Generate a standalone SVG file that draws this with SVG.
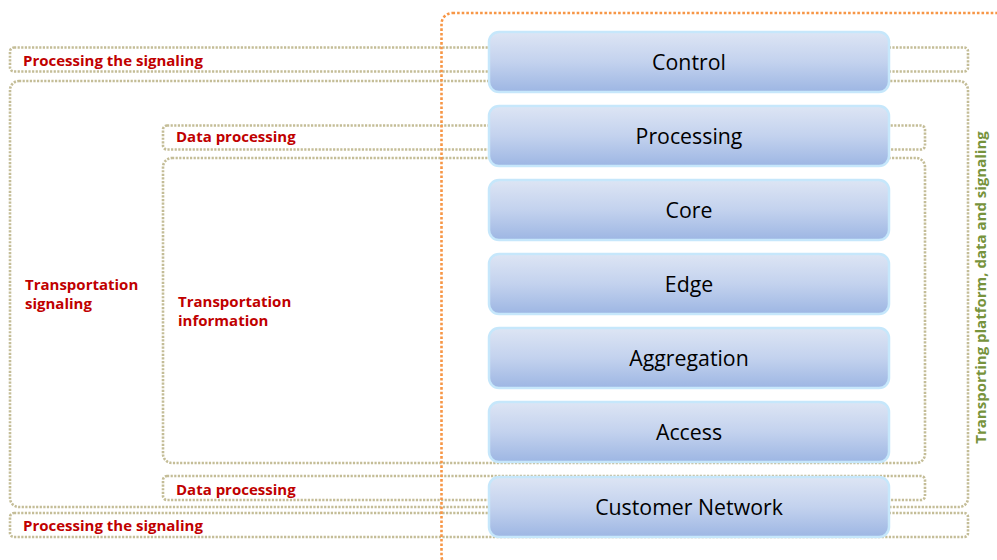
<svg xmlns="http://www.w3.org/2000/svg" width="997" height="560" viewBox="0 0 997 560">
<defs>
<linearGradient id="nodeGrad" x1="0" y1="0" x2="0" y2="1">
<stop offset="0" stop-color="#dde5f4"/>
<stop offset="0.5" stop-color="#c3d2ee"/>
<stop offset="1" stop-color="#9db6e3"/>
</linearGradient>
</defs>
<style>
.zone{fill:none;stroke:#c4bd97;stroke-width:2.6;stroke-dasharray:2.2 1.4}
.frame{fill:none;stroke:#f79646;stroke-width:2.6;stroke-dasharray:2.6 2}
.node rect{fill:url(#nodeGrad);stroke:#c6e7fb;stroke-width:2.5}
.node text{font-family:"Open Sans","Liberation Sans",sans-serif;font-size:21.3px;fill:#000;text-anchor:middle}
.lbl{font-family:"Open Sans","Liberation Sans",sans-serif;font-size:15px;font-weight:bold;fill:#c00000}
.side{font-family:"Open Sans","Liberation Sans",sans-serif;font-size:15px;font-weight:bold;fill:#77933c;text-anchor:middle}
</style>
<rect width="997" height="560" fill="#fff"/>
<g id="zones">
<rect class="zone" x="10" y="47.5" width="958" height="24" rx="4"/>
<rect class="zone" x="10" y="81" width="958" height="426" rx="9"/>
<rect class="zone" x="163" y="125.5" width="762" height="24" rx="4"/>
<rect class="zone" x="163" y="158" width="762" height="305" rx="9"/>
<rect class="zone" x="163" y="476" width="762" height="24" rx="4"/>
<rect class="zone" x="10" y="513" width="958" height="24" rx="4"/>
</g>
<g id="frame">
<rect class="frame" x="441.5" y="13" width="620" height="554" rx="11"/>
</g>
<g id="labels">
<text class="lbl" x="23" y="65.5">Processing the signaling</text>
<text class="lbl" x="176" y="142">Data processing</text>
<text class="lbl" x="25" y="289.5">Transportation</text>
<text class="lbl" x="25" y="309">signaling</text>
<text class="lbl" x="178" y="307">Transportation</text>
<text class="lbl" x="178" y="326">information</text>
<text class="lbl" x="176" y="494.5">Data processing</text>
<text class="lbl" x="23" y="531">Processing the signaling</text>
<text class="side" transform="translate(986,287.5) rotate(-90)">Transporting platform, data and signaling</text>
</g>
<g id="node-control" class="node"><rect x="489" y="32" width="400" height="60" rx="10"/><text x="689" y="70">Control</text></g>
<g id="node-processing" class="node"><rect x="489" y="106" width="400" height="60" rx="10"/><text x="689" y="144">Processing</text></g>
<g id="node-core" class="node"><rect x="489" y="180" width="400" height="60" rx="10"/><text x="689" y="218">Core</text></g>
<g id="node-edge" class="node"><rect x="489" y="254" width="400" height="60" rx="10"/><text x="689" y="292">Edge</text></g>
<g id="node-aggregation" class="node"><rect x="489" y="328" width="400" height="60" rx="10"/><text x="689" y="366">Aggregation</text></g>
<g id="node-access" class="node"><rect x="489" y="402" width="400" height="60" rx="10"/><text x="689" y="440">Access</text></g>
<g id="node-customer" class="node"><rect x="489" y="477" width="400" height="60" rx="10"/><text x="689" y="515">Customer Network</text></g>
<g id="connectors"></g>
</svg>
